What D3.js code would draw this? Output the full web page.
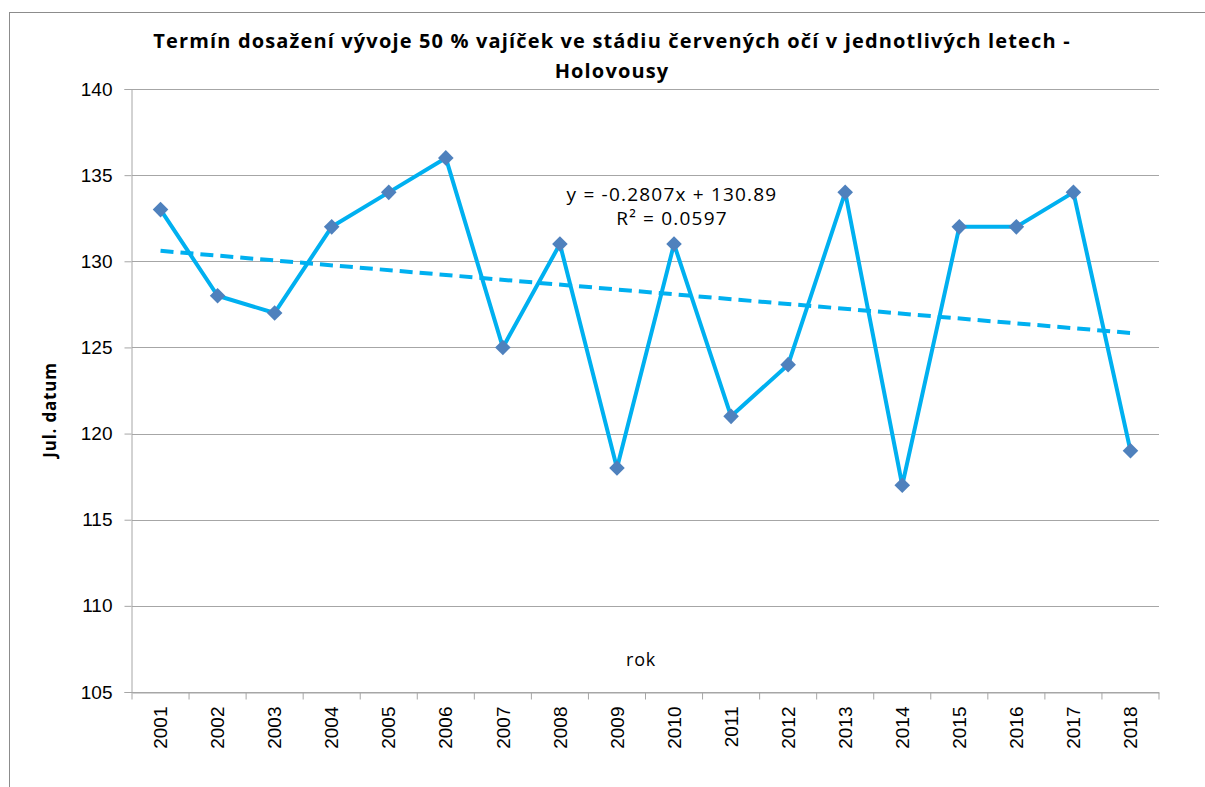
<!DOCTYPE html>
<html>
<head>
<meta charset="utf-8">
<script src="https://cdn.jsdelivr.net/npm/d3@7"></script>
<style>
    body { margin: 0; background: #fff; }
</style>
</head>
<body>
<svg role="chart" width="1205" height="787"></svg>
<script>
// data
var years = ['2001', '2002', '2003', '2004', '2005', '2006', '2007', '2008', '2009',
    '2010', '2011', '2012', '2013', '2014', '2015', '2016', '2017', '2018'];
var julDates = [133, 128, 127, 132, 134, 136, 125, 131, 118,
    131, 121, 124, 134, 117, 132, 132, 134, 119];
var yTicks = [105, 110, 115, 120, 125, 130, 135, 140];
var trendSlope = -0.2807,
    trendIntercept = 130.89;

// layout
var margin = { top: 89, left: 132, right: 46, bottom: 95 },
    width = 1205,
    height = 787;

var svg = d3.select('[role="chart"]');

// chart frame
svg.append('rect')
    .attr('x', 9.5)
    .attr('y', 12.5)
    .attr('width', 1205)
    .attr('height', 800)
    .attr('fill', '#fff')
    .attr('stroke', '#8c8c8c')
    .attr('stroke-width', 1);

var x = d3.scaleBand()
    .domain(years)
    .range([margin.left, width - margin.right]);

var y = d3.scaleLinear()
    .domain([105, 140])
    .range([height - margin.bottom, margin.top]);

// gridlines
svg.append('g')
    .selectAll('line')
    .data(yTicks)
    .enter()
    .append('line')
    .attr('x1', margin.left)
    .attr('x2', width - margin.right)
    .attr('y1', function (d) { return Math.round(y(d)) + 0.5; })
    .attr('y2', function (d) { return Math.round(y(d)) + 0.5; })
    .attr('stroke', '#a6a6a6');

// y axis
var yAxis = svg.append('g')
    .attr('transform', 'translate(' + (margin.left - 0.5) + ',0)')
    .call(d3.axisLeft(y).tickValues(yTicks).tickSize(7).tickPadding(12));
yAxis.selectAll('text')
    .attr('font-family', 'Liberation Sans, Arial, sans-serif')
    .attr('font-size', 19)
    .attr('fill', '#000');

// x axis, ticks on category boundaries
var xAxis = svg.append('g')
    .attr('transform', 'translate(0,' + (y(105) + 0.5) + ')')
    .call(d3.axisBottom(x).tickSize(0).tickPadding(0));
xAxis.selectAll('text')
    .attr('font-family', 'Liberation Sans, Arial, sans-serif')
    .attr('font-size', 19)
    .attr('fill', '#000')
    .attr('text-anchor', 'end')
    .attr('dy', '0.35em')
    .attr('transform', 'translate(0,14) rotate(-90)');
xAxis.selectAll('.tick')
    .append('line')
    .attr('x1', x.bandwidth() / 2)
    .attr('x2', x.bandwidth() / 2)
    .attr('y2', 7)
    .attr('stroke', '#a6a6a6');
xAxis.append('line')
    .attr('x1', margin.left)
    .attr('x2', margin.left)
    .attr('y2', 7)
    .attr('stroke', '#a6a6a6');

svg.selectAll('.domain').attr('stroke', '#a6a6a6');
svg.selectAll('.tick line').attr('stroke', '#a6a6a6');

function cx(d) {
    return x(d) + x.bandwidth() / 2;
}

// trend line
svg.append('line')
    .attr('x1', cx(years[0]))
    .attr('x2', cx(years[years.length - 1]))
    .attr('y1', y(trendSlope * 1 + trendIntercept))
    .attr('y2', y(trendSlope * years.length + trendIntercept))
    .attr('stroke', '#00b0f0')
    .attr('stroke-width', 4)
    .attr('stroke-dasharray', '13,7');

// series line
var line = d3.line()
    .x(function (d, i) { return cx(years[i]); })
    .y(function (d) { return y(d); });

svg.append('path')
    .datum(julDates)
    .attr('d', line)
    .attr('fill', 'none')
    .attr('stroke', '#00b0f0')
    .attr('stroke-width', 4)
    .attr('stroke-linejoin', 'round');

// diamond markers
svg.append('g')
    .selectAll('path')
    .data(julDates)
    .enter()
    .append('path')
    .attr('d', d3.symbol().type(d3.symbolDiamond2).size(155))
    .attr('transform', function (d, i) {
        return 'translate(' + cx(years[i]) + ',' + y(d) + ')';
    })
    .attr('fill', '#4f81bd');

// texts
var textFont = '"Open Sans", "DejaVu Sans", sans-serif';

svg.append('text')
    .attr('x', 612)
    .attr('y', 48)
    .attr('text-anchor', 'middle')
    .attr('font-family', textFont)
    .attr('font-weight', 'bold')
    .attr('font-size', 20)
    .attr('letter-spacing', 1.15)
    .text('Termín dosažení vývoje 50 % vajíček ve stádiu červených očí v jednotlivých letech -');
svg.append('text')
    .attr('x', 612)
    .attr('y', 78)
    .attr('text-anchor', 'middle')
    .attr('font-family', textFont)
    .attr('font-weight', 'bold')
    .attr('font-size', 20)
    .attr('letter-spacing', 1.15)
    .text('Holovousy');

svg.append('text')
    .attr('x', 672)
    .attr('y', 201)
    .attr('text-anchor', 'middle')
    .attr('font-family', textFont)
    .attr('font-size', 19)
    .attr('letter-spacing', 1.2)
    .text('y = -0.2807x + 130.89');
svg.append('text')
    .attr('x', 672)
    .attr('y', 225)
    .attr('text-anchor', 'middle')
    .attr('font-family', textFont)
    .attr('font-size', 19)
    .attr('letter-spacing', 1.2)
    .text('R² = 0.0597');

svg.append('text')
    .attr('x', 641)
    .attr('y', 666)
    .attr('text-anchor', 'middle')
    .attr('font-family', textFont)
    .attr('font-size', 18)
    .attr('letter-spacing', 0.8)
    .text('rok');

svg.append('text')
    .attr('transform', 'translate(56,410) rotate(-90)')
    .attr('text-anchor', 'middle')
    .attr('font-family', textFont)
    .attr('font-weight', 'bold')
    .attr('font-size', 17)
    .attr('letter-spacing', 0.8)
    .text('Jul. datum');
</script>
</body>
</html>
